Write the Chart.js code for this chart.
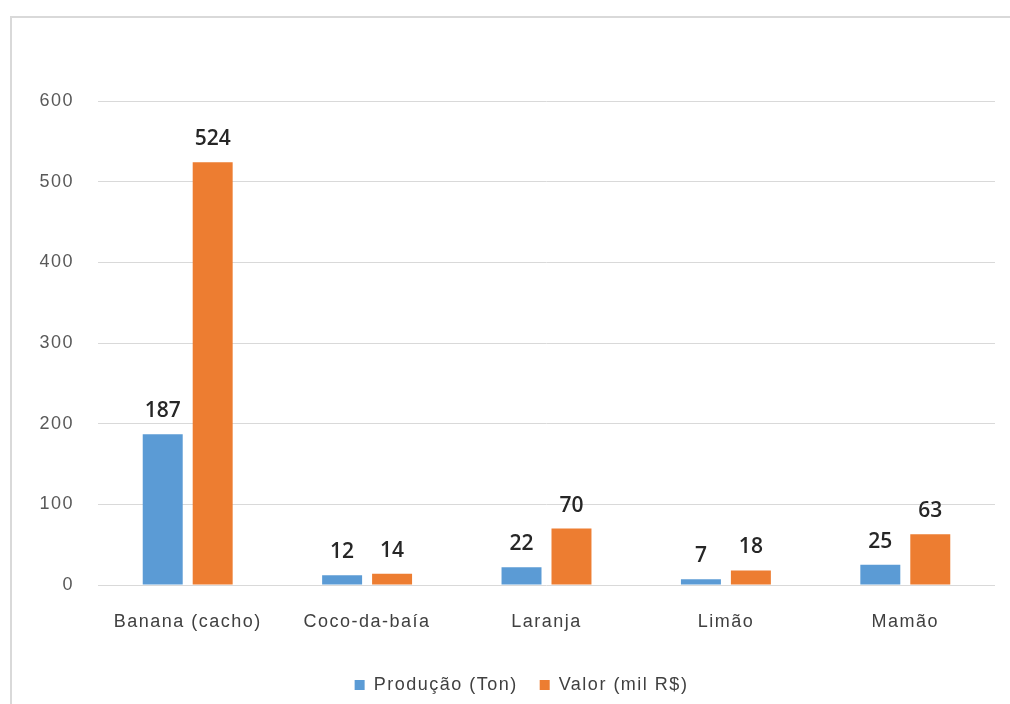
<!DOCTYPE html>
<html>
<head>
<meta charset="utf-8">
<script src="https://cdn.jsdelivr.net/npm/chart.js@4"></script>
<style>
  body { margin: 0; background: #fff; }
  canvas { display: block; }
</style>
</head>
<body>
<canvas id="fruitChart" width="1010" height="704"></canvas>
<script>
const categories = ['Banana (cacho)', 'Coco-da-baía', 'Laranja', 'Limão', 'Mamão'];
const producao = [187, 12, 22, 7, 25];
const valor = [524, 14, 70, 18, 63];
const yTicks = [0, 100, 200, 300, 400, 500, 600];

const tickFont = { family: 'Liberation Sans, Arial, sans-serif', size: 18 };

// a bit of tracking on axis and legend text
const spacing = {
    id: 'spacing',
    beforeLayout(chart) { chart.ctx.letterSpacing = '1.5px'; },
    beforeDraw(chart) { chart.ctx.letterSpacing = '1.5px'; }
};

// legend sits a little right of the canvas centre
const legendShift = {
    id: 'legendShift',
    afterLayout(chart) {
        chart.legend.left += 24;
        chart.legend.right += 24;
    }
};

// light grey frame around the whole chart
const framePlugin = {
    id: 'frame',
    beforeDraw(chart) {
        const ctx = chart.ctx;
        ctx.save();
        ctx.strokeStyle = '#d9d9d9';
        ctx.lineWidth = 2;
        ctx.beginPath();
        ctx.moveTo(11, 704);
        ctx.lineTo(11, 17);
        ctx.lineTo(1010, 17);
        ctx.stroke();
        ctx.restore();
    }
};

// value over each bar
const valueLabels = {
    id: 'valueLabels',
    afterDatasetsDraw(chart) {
        const ctx = chart.ctx;
        ctx.save();
        ctx.letterSpacing = '0px';
        ctx.font = '600 21px "Open Sans", sans-serif';
        ctx.fillStyle = '#262626';
        ctx.textAlign = 'center';
        ctx.textBaseline = 'alphabetic';
        chart.data.datasets.forEach((ds, i) => {
            chart.getDatasetMeta(i).data.forEach((bar, j) => {
                ctx.fillText(ds.data[j], bar.x, bar.y - 17);
            });
        });
        ctx.restore();
    }
};

new Chart(document.getElementById('fruitChart').getContext('2d'), {
    type: 'bar',
    data: {
        labels: categories,
        datasets: [{
            label: 'Produção (Ton)',
            data: producao,
            backgroundColor: '#5b9bd5',
            barPercentage: 0.8,
            categoryPercentage: 0.557
        }, {
            label: 'Valor (mil R$)',
            data: valor,
            backgroundColor: '#ed7d31',
            barPercentage: 0.8,
            categoryPercentage: 0.557
        }]
    },
    options: {
        responsive: false,
        animation: false,
        layout: { padding: { top: 101, right: 15, bottom: 0, left: 0 } },
        scales: {
            x: {
                grid: { display: false, drawTicks: false },
                border: { display: false },
                ticks: { color: '#404040', font: tickFont, padding: 26 },
                afterFit: s => { s.height = 69; }
            },
            y: {
                min: 0,
                max: 600,
                afterBuildTicks: s => { s.ticks = yTicks.map(v => ({ value: v })); },
                grid: { color: '#d9d9d9', lineWidth: 1, drawTicks: false },
                border: { display: false },
                ticks: { color: '#595959', font: tickFont, padding: 24 },
                afterFit: s => { s.width = 98; }
            }
        },
        plugins: {
            legend: {
                position: 'bottom',
                labels: {
                    color: '#404040',
                    font: tickFont,
                    boxWidth: 10,
                    boxHeight: 10,
                    padding: 22
                }
            },
            tooltip: { enabled: false }
        }
    },
    plugins: [spacing, legendShift, framePlugin, valueLabels]
});
</script>
</body>
</html>
